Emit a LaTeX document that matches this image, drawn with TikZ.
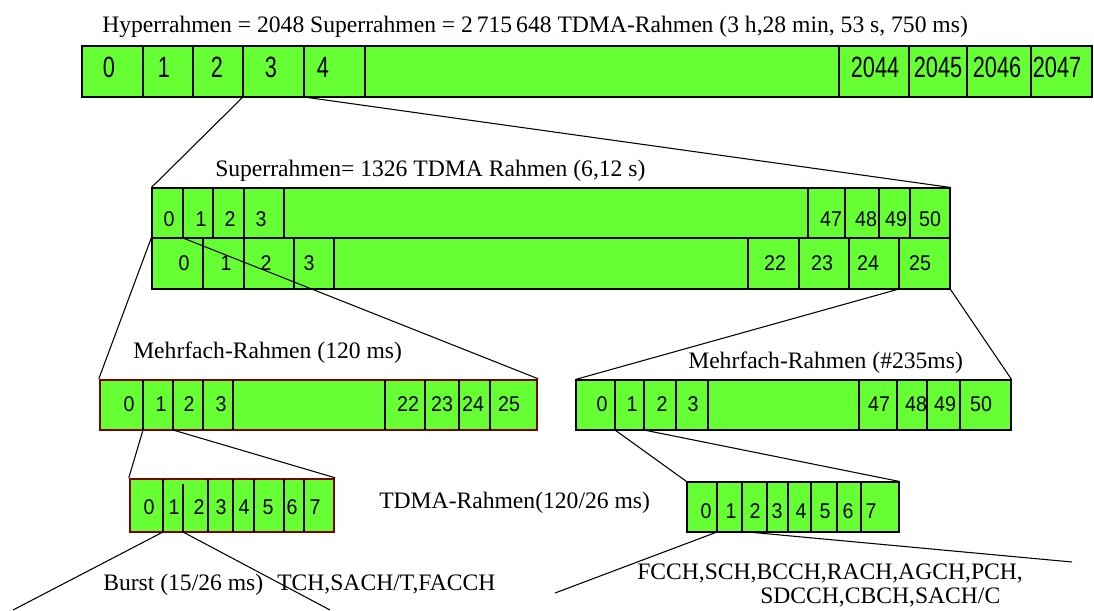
\documentclass[tikz,border=0pt]{standalone}
\usepackage{fontspec}
\usepackage{xcolor}
\setmainfont{Liberation Serif}
\newfontfamily\numfont[FakeStretch=0.92]{Liberation Sans}
\newfontfamily\bignumfont[FakeStretch=0.74]{Liberation Sans}
\usetikzlibrary{fit}

\definecolor{cellgreen}{HTML}{66FF33}
\definecolor{framered}{HTML}{800000}

\begin{document}
\begin{tikzpicture}[
    x=0.75pt, y=-0.75pt,
    rowbox/.style={draw=black, line width=0.8pt, fill=cellgreen, inner sep=0pt},
    redbox/.style={rowbox, draw=framered, line width=1.8pt},
    divider/.style={line width=0.8pt},
    link/.style={line width=0.8pt},
    num/.style={font=\numfont\fontsize{16}{16}\selectfont, anchor=base, inner sep=0pt},
    bignum/.style={font=\bignumfont\fontsize{22}{22}\selectfont, anchor=base, inner sep=0pt},
    titletext/.style={font=\fontsize{17.7}{20}\selectfont, anchor=base west, inner sep=0pt}
]
\useasboundingbox (0,0) rectangle (1094,610);

% Hyperrahmen
\node[titletext] (hypertitle) at (102,33) {Hyperrahmen = 2048 Superrahmen = 2\,715\,648 TDMA-Rahmen (3 h,28 min, 53 s, 750 ms)};
\node[rowbox, fit={(82,46) (1092,97)}] (hyper) {};
\foreach \x in {143,193,243,304,365,839,909,967,1031}
    \draw[divider] (\x,46) -- (\x,97);
\foreach \x/\n in {109/0,164/1,217/2,271/3,323/4,875/2044,938/2045,997/2046,1057/2047}
    \node[bignum] (hn\n) at (\x,77) {\n};

% Superrahmen
\node[titletext] (supertitle) at (215,176) {Superrahmen= 1326 TDMA Rahmen (6,12 s)};
\node[rowbox, fit={(152,188) (950,238)}] (supera) {};
\node[rowbox, fit={(152,238) (950,289)}] (superb) {};
\foreach \x in {183,213,244,284,808,845,879,910}
    \draw[divider] (\x,188) -- (\x,238);
\foreach \x in {203,244,294,334,748,799,849,899}
    \draw[divider] (\x,238) -- (\x,289);
\foreach \x/\n in {169/0,201/1,230/2,261/3,831/47,866/48,896/49,930/50}
    \node[num] (san\n) at (\x,226) {\n};
\foreach \x/\n in {184/0,226/1,266/2,309/3,775/22,822/23,868/24,920/25}
    \node[num] (sbn\n) at (\x,270) {\n};

% Mehrfach-Rahmen
\node[titletext] (multiltitle) at (133,358) {Mehrfach-Rahmen (120 ms)};
\node[redbox, fit={(100,380) (537,430)}] (multil) {};
\foreach \x in {143,173,203,233,385,425,459,490}
    \draw[divider] (\x,380) -- (\x,430);
\foreach \x/\n in {129/0,161/1,189/2,221/3,408/22,442/23,473/24,509/25}
    \node[num] (mln\n) at (\x,411) {\n};

\node[titletext] (multirtitle) at (688,368) {Mehrfach-Rahmen (\#235ms)};
\node[rowbox, fit={(576,380) (1011,430)}] (multir) {};
\foreach \x in {615,644,676,708,859,897,927,960}
    \draw[divider] (\x,380) -- (\x,430);
\foreach \x/\n in {602/0,632/1,662/2,693/3,879/47,916/48,945/49,981/50}
    \node[num] (mrn\n) at (\x,411) {\n};

% TDMA-Rahmen
\node[titletext] (tdmatitle) at (379,508) {TDMA-Rahmen(120/26 ms)};
\node[redbox, fit={(130,479) (334,532)}] (tdmal) {};
\foreach \x in {163,208,233,254,284,304}
    \draw[divider] (\x,479) -- (\x,532);
\draw[divider] (183,484) -- (183,532);
\foreach \x/\n in {149/0,174/1,199/2,221/3,244/4,268/5,292/6,315/7}
    \node[num] (tln\n) at (\x,514) {\n};

\node[rowbox, fit={(687,482) (899,532)}] (tdmar) {};
\foreach \x in {717,742,767,788,811,837,861}
    \draw[divider] (\x,482) -- (\x,532);
\foreach \x/\n in {706/0,731/1,755/2,777/3,801/4,825/5,848/6,871/7}
    \node[num] (trn\n) at (\x,518) {\n};

% Kanaele
\node[titletext] (bursttext) at (103,590) {Burst (15/26 ms)};
\node[titletext] (tchtext) at (277,590) {TCH,SACH/T,FACCH};
\node[titletext] (fcchtext) at (637,579) {FCCH,SCH,BCCH,RACH,AGCH,PCH,};
\node[titletext] (sdcchtext) at (760,603) {SDCCH,CBCH,SACH/C};

% Verbindungen
\coordinate (h3) at (243,97);
\coordinate (h4) at (304,97);
\coordinate (sa1) at (183,238);
\coordinate (sb24) at (899,289);
\coordinate (ml1) at (143,430);
\coordinate (ml2) at (173,430);
\coordinate (mr1) at (615,430);
\coordinate (mr2) at (644,430);
\coordinate (tl1) at (163,532);
\coordinate (tl2) at (183,532);
\coordinate (tr1) at (717,532);
\coordinate (tr2) at (748,532);
\coordinate (tlend1) at (13,610);
\coordinate (tlend2) at (330,610);
\coordinate (trend1) at (555,593);
\coordinate (trend2) at (1072,562);

\draw[link] (h3) -- (supera.north west);
\draw[link] (h4) -- (supera.north east);
\draw[link] (superb.north west) -- (multil.north west);
\draw[link] (sa1) -- (multil.north east);
\draw[link] (sb24) -- (multir.north west);
\draw[link] (superb.south east) -- (multir.north east);
\draw[link] (ml1) -- (tdmal.north west);
\draw[link] (ml2) -- (tdmal.north east);
\draw[link] (mr1) -- (tdmar.north west);
\draw[link] (mr2) -- (tdmar.north east);
\draw[link] (tl1) -- (tlend1);
\draw[link] (tl2) -- (tlend2);
\draw[link] (tr1) -- (trend1);
\draw[link] (tr2) -- (trend2);
\end{tikzpicture}
\end{document}
